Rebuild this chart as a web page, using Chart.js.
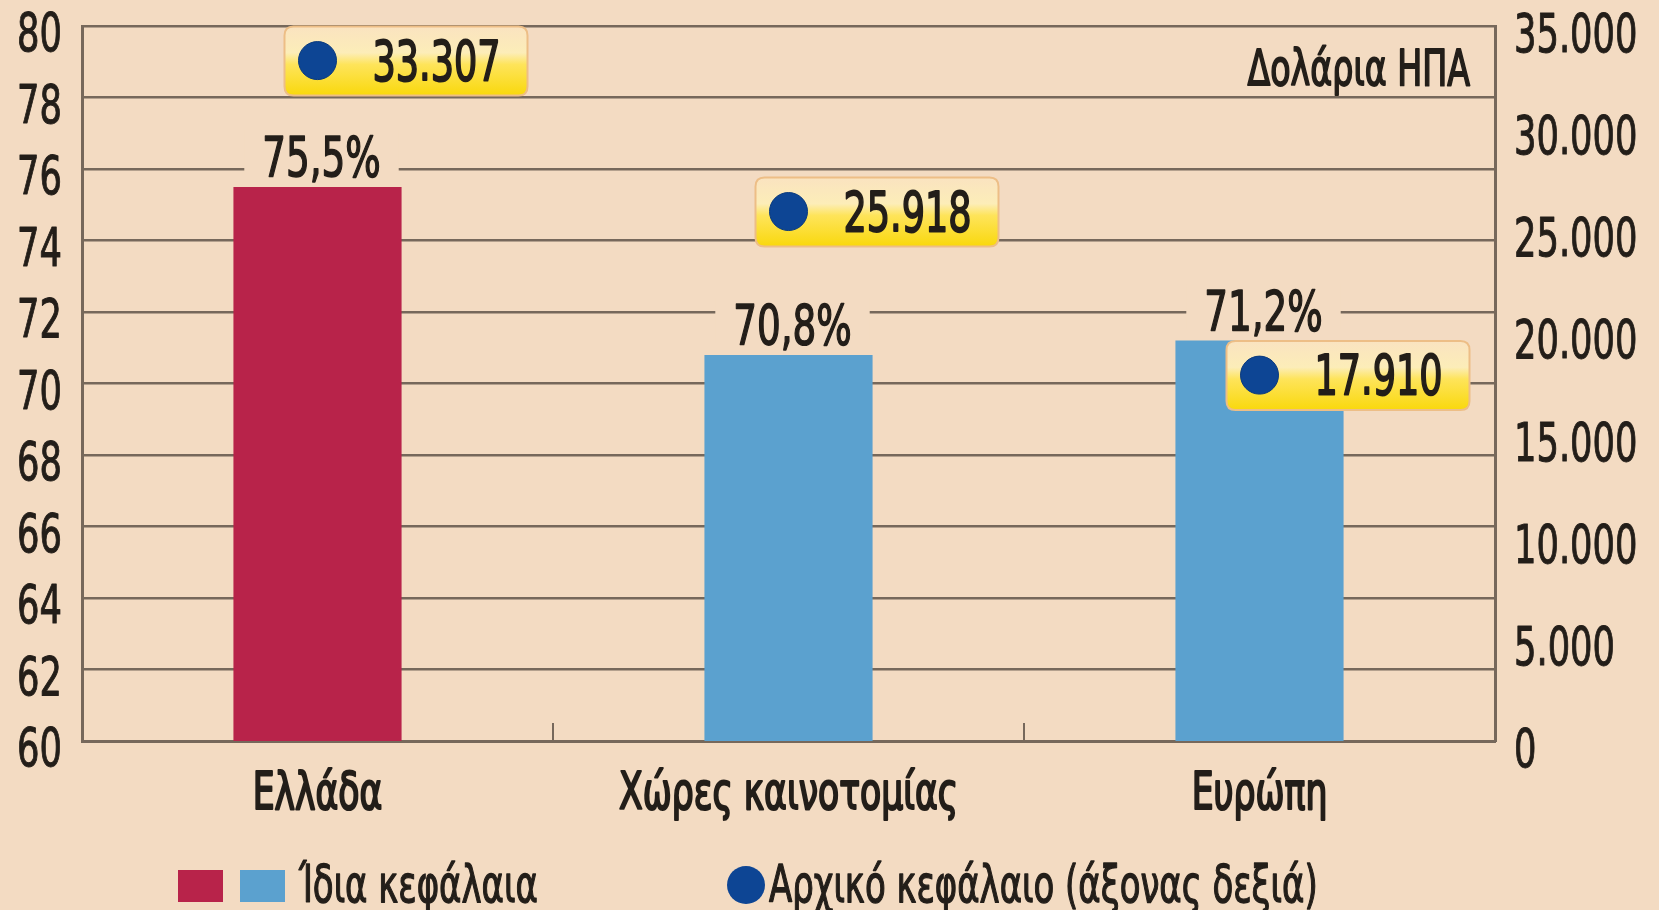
<!DOCTYPE html>
<html>
<head>
<meta charset="utf-8">
<script src="https://cdn.jsdelivr.net/npm/chart.js@4.4.1/dist/chart.umd.min.js"></script>
<style>
  html, body { margin: 0; padding: 0; background: #F3DBC2; }
  #wrap { width: 1659px; height: 910px; position: relative; }
</style>
</head>
<body>
<div id="wrap"><canvas id="c" width="1659" height="910"></canvas></div>
<script>
// ---- data ----
const categories = ['Ελλάδα', 'Χώρες καινοτομίας', 'Ευρώπη'];
const equityShare = [75.5, 70.8, 71.2];          // % (left axis)
const initialCapital = [33307, 25918, 17910];    // USD (right axis)
const barColors = ['#B8234A', '#5BA1CF', '#5BA1CF'];
const legendEquity = 'Ίδια κεφάλαια';
const legendCapital = 'Αρχικό κεφάλαιο (άξονας δεξιά)';
const unitLabel = 'Δολάρια ΗΠΑ';

const FONT = "'Liberation Sans Narrow', 'DejaVu Sans Condensed', 'Roboto Condensed', 'Liberation Sans', sans-serif";
const SX = 0.74;          // horizontal squeeze to mimic the condensed typeface
const BG = '#F3DBC2';
const GRID = '#76685B';
const TXT = '#231E19';
const DOT = '#0D4594';

function fmtPct(v) { return v.toFixed(1).replace('.', ',') + '%'; }
function fmtThousands(v) { return String(Math.round(v)).replace(/\B(?=(\d{3})+(?!\d))/g, '.'); }

function txt(ctx, s, x, y, size, align, stroke) {
  ctx.save();
  ctx.font = size + 'px ' + FONT;
  const w = ctx.measureText(s).width * SX;
  const x0 = align === 'center' ? x - w / 2 : (align === 'right' ? x - w : x);
  ctx.translate(x0, y);
  ctx.scale(SX, 1);
  ctx.textAlign = 'left';
  ctx.textBaseline = 'alphabetic';
  ctx.fillStyle = TXT;
  ctx.fillText(s, 0, 0);
  const sw = stroke === undefined ? 1.2 : stroke;
  if (sw > 0) {
    ctx.lineJoin = 'round';
    ctx.strokeStyle = TXT;
    ctx.lineWidth = sw;
    ctx.strokeText(s, 0, 0);
  }
  ctx.restore();
  return w;
}

function roundRect(ctx, x, y, w, h, r) {
  ctx.beginPath();
  ctx.moveTo(x + r, y);
  ctx.lineTo(x + w - r, y);
  ctx.quadraticCurveTo(x + w, y, x + w, y + r);
  ctx.lineTo(x + w, y + h - r);
  ctx.quadraticCurveTo(x + w, y + h, x + w - r, y + h);
  ctx.lineTo(x + r, y + h);
  ctx.quadraticCurveTo(x, y + h, x, y + h - r);
  ctx.lineTo(x, y + r);
  ctx.quadraticCurveTo(x, y, x + r, y);
  ctx.closePath();
}

const decorPlugin = {
  id: 'decor',
  beforeDatasetDraw(chart, args) {
    if (args.index !== 1) return;
    const ctx = chart.ctx;
    const meta = chart.getDatasetMeta(1);
    ctx.save();
    meta.data.forEach(p => {
      const x0 = p.x - 33, y0 = p.y - 34, w = 243, h = 69;
      const g = ctx.createLinearGradient(0, y0, 0, y0 + h);
      g.addColorStop(0, '#FAE3C0');
      g.addColorStop(0.38, '#FCEDB8');
      g.addColorStop(0.55, '#FEE45A');
      g.addColorStop(1, '#F9D80C');
      roundRect(ctx, x0, y0, w, h, 9);
      ctx.fillStyle = g;
      ctx.fill();
      ctx.lineWidth = 2;
      ctx.strokeStyle = '#EDBE86';
      ctx.stroke();
    });
    ctx.restore();
  },
  afterDatasetsDraw(chart) {
    const ctx = chart.ctx;
    // capital value labels
    const dm = chart.getDatasetMeta(1);
    dm.data.forEach((p, i) => {
      txt(ctx, fmtThousands(initialCapital[i]), p.x + 55, p.y + 19, 55, 'left', 1.8);
    });
    // percent labels above bars, with background patch interrupting grid
    const bm = chart.getDatasetMeta(0);
    bm.data.forEach((b, i) => {
      const t = fmtPct(equityShare[i]);
      const tx = b.x + 4, ty = b.y - 11;
      ctx.save();
      ctx.font = '56px ' + FONT;
      const tw = ctx.measureText(t).width * SX;
      ctx.fillStyle = BG;
      ctx.fillRect(tx - tw / 2 - 18, ty - 46, tw + 36, 46);
      ctx.restore();
      txt(ctx, t, tx, ty, 56, 'center', 1.5);
    });
  },
  afterDraw(chart) {
    const ctx = chart.ctx;
    const a = chart.chartArea;
    const xs = chart.scales.x, ys = chart.scales.y, yr = chart.scales.y1;
    // inward tick marks at category boundaries
    ctx.save();
    ctx.strokeStyle = GRID;
    ctx.lineWidth = 2;
    for (let i = 1; i < categories.length; i++) {
      const xb = (xs.getPixelForTick(i - 1) + xs.getPixelForTick(i)) / 2;
      ctx.beginPath();
      ctx.moveTo(Math.round(xb), a.bottom);
      ctx.lineTo(Math.round(xb), a.bottom - 18);
      ctx.stroke();
    }
    ctx.restore();
    // left axis labels
    ys.ticks.forEach(t => {
      txt(ctx, String(t.value), a.left - 20, ys.getPixelForValue(t.value) + 25, 53, 'right', 1.0);
    });
    // right axis labels
    yr.ticks.forEach(t => {
      txt(ctx, fmtThousands(t.value), a.right + 19, yr.getPixelForValue(t.value) + 26, 53, 'left', 1.0);
    });
    // category labels
    categories.forEach((c, i) => {
      txt(ctx, c, xs.getPixelForTick(i), 809, 52, 'center', 2.2);
    });
    // unit label
    txt(ctx, unitLabel, a.right - 25, 85, 50, 'right', 1.8);
    // legend
    const ly = 886;
    ctx.save();
    ctx.fillStyle = barColors[0];
    ctx.fillRect(178, ly - 16, 45, 32);
    ctx.fillStyle = barColors[1];
    ctx.fillRect(240, ly - 16, 45, 32);
    ctx.beginPath();
    ctx.arc(746, ly - 1, 19, 0, Math.PI * 2);
    ctx.fillStyle = DOT;
    ctx.fill();
    ctx.restore();
    txt(ctx, legendEquity, 299, 902, 51, 'left', 1.3);
    txt(ctx, legendCapital, 769, 902, 51, 'left', 1.3);
  }
};

new Chart(document.getElementById('c'), {
  data: {
    labels: categories,
    datasets: [
      {
        type: 'bar',
        label: legendEquity,
        data: equityShare,
        backgroundColor: barColors,
        yAxisID: 'y',
        barPercentage: 0.357,
        categoryPercentage: 1.0,
        order: 1
      },
      {
        type: 'line',
        label: legendCapital,
        data: initialCapital,
        yAxisID: 'y1',
        showLine: false,
        pointRadius: 19,
        pointHoverRadius: 19,
        pointBackgroundColor: DOT,
        pointBorderColor: '#0A3A7E',
        pointBorderWidth: 1,
        order: 0
      }
    ]
  },
  options: {
    responsive: false,
    animation: false,
    layout: { padding: { top: 26, left: 0, right: 0, bottom: 0 } },
    plugins: { legend: { display: false }, tooltip: { enabled: false } },
    scales: {
      x: {
        grid: { display: false, drawTicks: false },
        border: { display: true, color: GRID, width: 3 },
        ticks: { display: false },
        afterFit(s) { s.height = 169; s.paddingLeft = 0; s.paddingRight = 0; }
      },
      y: {
        position: 'left',
        min: 60, max: 80,
        ticks: { display: false, stepSize: 2 },
        grid: { color: GRID, lineWidth: 2.5, drawTicks: false },
        border: { display: true, color: GRID, width: 3 },
        afterFit(s) { s.width = 82; s.paddingTop = 0; s.paddingBottom = 0; }
      },
      y1: {
        position: 'right',
        min: 0, max: 35000,
        ticks: { display: false, stepSize: 5000 },
        grid: { drawOnChartArea: false, drawTicks: false },
        border: { display: true, color: GRID, width: 3 },
        afterFit(s) { s.width = 164; s.paddingTop = 0; s.paddingBottom = 0; }
      }
    }
  },
  plugins: [decorPlugin]
});
</script>
</body>
</html>
